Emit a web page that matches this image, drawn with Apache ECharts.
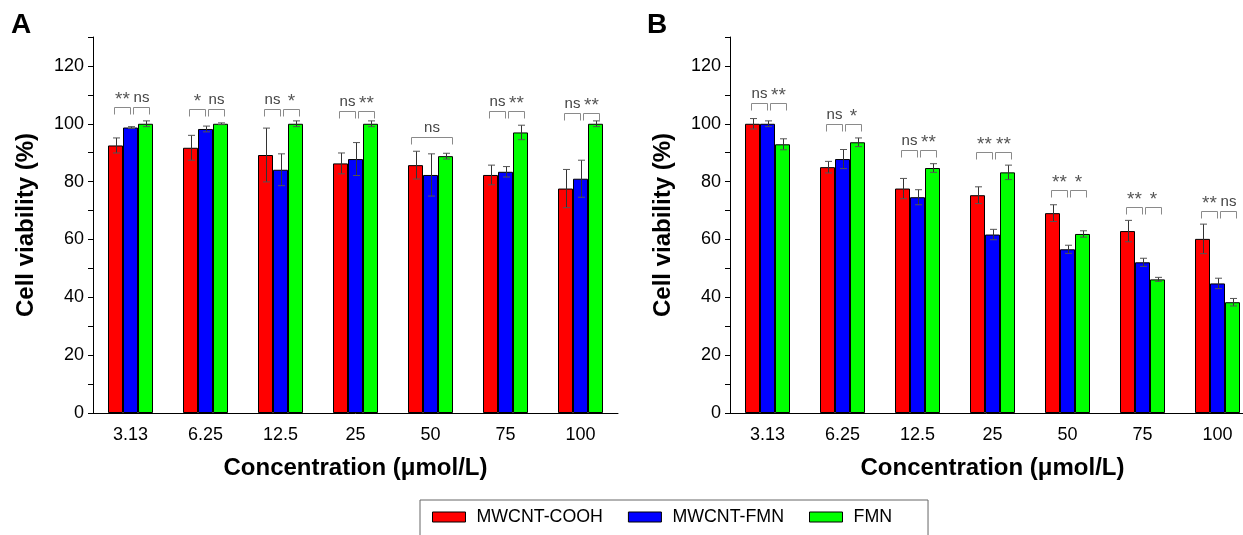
<!DOCTYPE html>
<html>
<head>
<meta charset="utf-8">
<script src="https://cdn.jsdelivr.net/npm/echarts@6/dist/echarts.min.js"></script>
<style>
html,body{margin:0;padding:0;background:#fff;}
#chart{width:1243px;height:535px;}
</style>
</head>
<body>
<div id="chart"></div>
<script>
// ---- data ----
const categories = ['3.13', '6.25', '12.5', '25', '50', '75', '100'];
const seriesNames = ['MWCNT-COOH', 'MWCNT-FMN', 'FMN'];

// Panel A
const aCooh = [92.5, 91.7, 89.2, 86.3, 85.7, 82.3, 77.6];
const aCoohErr = [2.6, 4.3, 9.3, 3.6, 4.8, 3.4, 6.6];
const aFmnCnt = [98.7, 98.2, 84.1, 87.8, 82.3, 83.4, 81.0];
const aFmnCntErr = [0.3, 1.0, 5.5, 5.7, 7.3, 1.8, 6.4];
const aFmn = [100, 100, 100, 100, 88.8, 97.0, 100];
const aFmnErr = [1.0, 0.3, 1.0, 1.0, 1.0, 2.5, 1.0];
const aSig = [['**', 'ns'], ['*', 'ns'], ['ns', '*'], ['ns', '**'], ['ns'], ['ns', '**'], ['ns', '**']];
const aSigLevel = [105.8, 105.2, 105.2, 104.5, 95.5, 104.5, 103.8];

// Panel B
const bCooh = [100, 85.0, 77.6, 75.3, 69.1, 62.9, 60.2];
const bCoohErr = [1.8, 2.0, 3.5, 2.9, 2.9, 3.7, 5.1];
const bFmnCnt = [100, 87.8, 74.6, 61.7, 56.6, 52.1, 44.8];
const bFmnCntErr = [1.0, 3.3, 2.6, 1.8, 1.4, 1.4, 1.8];
const bFmn = [92.9, 93.6, 84.7, 83.2, 61.9, 46.2, 38.3];
const bFmnErr = [1.9, 1.5, 1.5, 2.5, 1.1, 0.7, 1.3];
const bSig = [['ns', '**'], ['ns', '*'], ['ns', '**'], ['**', '**'], ['**', '*'], ['**', '*'], ['**', 'ns']];
const bSigLevel = [107.3, 99.8, 91.1, 90.1, 77.0, 71.3, 69.7];

const yTicks = [0, 20, 40, 60, 80, 100, 120];

// ---- style ----
const colors = ['#ff0000', '#0000ff', '#00ff00'];
const FONT = '"Liberation Sans", Arial, Helvetica, sans-serif';
const BAR_W = 15;

const chart = echarts.init(document.getElementById('chart'), null, {renderer: 'canvas'});

function errRender(offset) {
  return function (params, api) {
    const x = api.value(0), v = api.value(1), e = api.value(2);
    const t = api.coord([x, v + e]);
    const b = api.coord([x, v - e]);
    const cx = Math.round(t[0] + offset) + 0.5;
    const st = {stroke: '#333', lineWidth: 1};
    return {
      type: 'group',
      children: [
        {type: 'line', shape: {x1: cx, y1: t[1], x2: cx, y2: b[1]}, style: st},
        {type: 'line', shape: {x1: cx - 3.5, y1: t[1], x2: cx + 3.5, y2: t[1]}, style: {stroke: '#555', lineWidth: 1}},
        {type: 'line', shape: {x1: cx - 3.5, y1: b[1], x2: cx + 3.5, y2: b[1]}, style: {stroke: '#555', lineWidth: 1}}
      ]
    };
  };
}

function sigRender(sigArr) {
  return function (params, api) {
    const i = api.value(0), lvl = api.value(1);
    const p = api.coord([i, lvl]);
    const c = p[0];
    const y = Math.round(p[1]) + 0.5;
    const leg = 7;
    const labels = sigArr[params.dataIndex];
    const lineSt = {stroke: '#8a8a8a', lineWidth: 1, fill: null};
    const txtSt = (txt, x) => {
      const star = txt.indexOf('*') >= 0;
      return {type: 'text', style: {
        text: txt, x: x, y: star ? y + 2 : y - 2, fill: star ? '#555' : '#444',
        font: (star ? '19px ' : '15px ') + FONT, align: 'center', verticalAlign: 'bottom'
      }};
    };
    const bracket = (x1, x2) => ({type: 'polyline', shape: {points: [[x1, y + leg], [x1, y], [x2, y], [x2, y + leg]]}, style: lineSt});
    const children = [];
    if (labels.length === 1) {
      const x1 = Math.round(c - BAR_W - 5) + 0.5, x2 = Math.round(c + BAR_W + 6) + 0.5;
      children.push(bracket(x1, x2), txtSt(labels[0], (x1 + x2) / 2));
    } else {
      const a1 = Math.round(c - BAR_W - 2) + 0.5, a2 = Math.round(c - 1) + 0.5;
      const b1 = Math.round(c + 2) + 0.5, b2 = Math.round(c + BAR_W + 3) + 0.5;
      children.push(bracket(a1, a2), txtSt(labels[0], (a1 + a2) / 2));
      children.push(bracket(b1, b2), txtSt(labels[1], (b1 + b2) / 2));
    }
    return {type: 'group', children};
  };
}

const grids = [
  {left: 93, top: 37, width: 525, height: 376, outerBoundsMode: 'none', containLabel: false},
  {left: 730, top: 37, width: 525, height: 376, outerBoundsMode: 'none', containLabel: false}
];

function xAxes(gi) {
  return [
    {
      type: 'category', gridIndex: gi, data: categories, boundaryGap: true,
      name: 'Concentration (\u03bcmol/L)', nameLocation: 'middle', nameGap: 43,
      nameTextStyle: {fontFamily: FONT, fontSize: 24, fontWeight: 'bold', color: '#000'},
      axisLine: {lineStyle: {color: '#000', width: 1}},
      axisTick: {alignWithLabel: true, length: 7, lineStyle: {color: '#000'}},
      axisLabel: {fontFamily: FONT, fontSize: 18, color: '#000', margin: 13, interval: 0},
      splitLine: {show: false}
    },
    {
      type: 'category', gridIndex: gi, data: categories, boundaryGap: true, position: 'bottom',
      axisLine: {show: false},
      axisTick: {alignWithLabel: false, length: 4, lineStyle: {color: '#000'}, interval: 0},
      axisLabel: {show: false},
      splitLine: {show: false}
    }
  ];
}

function yAxis(gi) {
  return {
    type: 'value', gridIndex: gi, min: 0, max: 130, interval: 10,
    name: 'Cell viability (%)', nameLocation: 'middle', nameGap: 55,
    nameTextStyle: {fontFamily: FONT, fontSize: 24, fontWeight: 'bold', color: '#000'},
    axisLine: {show: true, lineStyle: {color: '#000', width: 1}},
    axisTick: {show: true, length: 5, lineStyle: {color: '#000'}},
    axisLabel: {
      fontFamily: FONT, fontSize: 18, color: '#000', margin: 9,
      formatter: v => (yTicks.indexOf(v) >= 0 ? String(v) : '')
    },
    splitLine: {show: false}
  };
}

function panelSeries(gi, vals, errs, sig, sigLevel) {
  const xi = gi * 2, yi = gi;
  const out = [];
  vals.forEach((arr, k) => {
    out.push({
      name: seriesNames[k], type: 'bar', xAxisIndex: xi, yAxisIndex: yi,
      data: arr, barWidth: BAR_W, barGap: '0%',
      itemStyle: {color: colors[k], borderColor: '#000', borderWidth: 1},
      emphasis: {disabled: true}, z: 2
    });
  });
  vals.forEach((arr, k) => {
    out.push({
      type: 'custom', xAxisIndex: xi, yAxisIndex: yi, z: 5, silent: true,
      renderItem: errRender((k - 1) * BAR_W),
      data: arr.map((v, i) => [i, v, errs[k][i]])
    });
  });
  out.push({
    type: 'custom', xAxisIndex: xi, yAxisIndex: yi, z: 6, silent: true,
    renderItem: sigRender(sig),
    data: sigLevel.map((l, i) => [i, l])
  });
  return out;
}

const option = {
  backgroundColor: '#fff',
  animation: false,
  grid: grids,
  xAxis: [...xAxes(0), ...xAxes(1)],
  yAxis: [yAxis(0), yAxis(1)],
  legend: {
    data: seriesNames.map(n => ({name: n, icon: 'rect'})),
    left: 420, top: 500,
    orient: 'horizontal',
    itemWidth: 33, itemHeight: 10, itemGap: 25,
    padding: [8, 36, 20, 12],
    borderColor: '#666', borderWidth: 1,
    itemStyle: {borderColor: '#000', borderWidth: 1},
    textStyle: {fontFamily: FONT, fontSize: 17.8, color: '#000', padding: [0, 0, 0, 6]},
    selectedMode: false
  },
  graphic: [
    {type: 'text', left: 11, top: 11, style: {text: 'A', font: 'bold 28px ' + FONT, fill: '#000'}},
    {type: 'text', left: 647, top: 11, style: {text: 'B', font: 'bold 28px ' + FONT, fill: '#000'}}
  ],
  series: [
    ...panelSeries(0, [aCooh, aFmnCnt, aFmn], [aCoohErr, aFmnCntErr, aFmnErr], aSig, aSigLevel),
    ...panelSeries(1, [bCooh, bFmnCnt, bFmn], [bCoohErr, bFmnCntErr, bFmnErr], bSig, bSigLevel)
  ]
};
chart.setOption(option);
</script>
</body>
</html>
